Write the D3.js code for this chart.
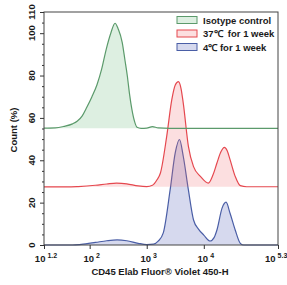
<!DOCTYPE html>
<html>
<head>
<meta charset="utf-8">
<script src="https://cdn.jsdelivr.net/npm/d3@7"></script>
<style>
  body { margin: 0; background: #fff; }
  svg text { font-family: "Liberation Sans", Arial, sans-serif; font-weight: bold; fill: #1a1a1a; }
</style>
</head>
<body>
<div id="chart"></div>
<script>
// series: x as log10 of fluorescence, y as plotted count (%) incl. offset
var isoX = [1.2, 1.4, 1.55, 1.7, 1.78, 1.87, 1.95, 2.04, 2.13, 2.21, 2.29, 2.37, 2.445, 2.5, 2.57, 2.62, 2.66, 2.7, 2.74, 2.79, 2.83, 2.9, 3.0, 3.1, 3.2, 3.4, 4.0, 5.3]
var isoY = [55.2, 55.3, 56, 57.2, 58.4, 61, 65, 70, 75.8, 83, 92.4, 100, 104.7, 102, 95.7, 87, 79.8, 71, 64, 58, 55.6, 55.1, 55.2, 55.9, 55.3, 55.1, 55.1, 55.1]

var warmX = [1.2, 1.6, 1.8, 2.1, 2.3, 2.47, 2.65, 2.85, 3.0, 3.1, 3.18, 3.24, 3.35, 3.44, 3.5, 3.556, 3.6, 3.64, 3.73, 3.82, 3.94, 4.08, 4.16, 4.23, 4.3, 4.36, 4.41, 4.46, 4.55, 4.64, 4.75, 5.3]
var warmY = [27.4, 27.4, 27.6, 28.2, 28.8, 29.2, 28.9, 27.9, 27.6, 28.2, 30.8, 34, 51.3, 68.7, 75.5, 77.1, 74, 67, 46.6, 37, 32.4, 29.2, 33, 38.7, 44, 46.1, 44.5, 40.3, 32.4, 28, 27.5, 27.5]

var coldX = [1.2, 1.7, 1.85, 2.1, 2.3, 2.48, 2.65, 2.85, 3.0, 3.12, 3.2, 3.29, 3.41, 3.5, 3.574, 3.64, 3.73, 3.82, 3.91, 4.0, 4.11, 4.18, 4.23, 4.32, 4.39, 4.46, 4.55, 4.64, 4.7, 5.3]
var coldY = [0, 0, 0.3, 1.2, 2.0, 2.4, 2.0, 0.8, 0.2, 0.4, 1.8, 5.7, 26, 43.6, 49.8, 41.9, 26, 11.8, 7.4, 4.7, 1.9, 3.5, 7.1, 17.4, 20.2, 15, 7.1, 0.8, 0, 0]

var baselines = [55.1, 27.5, 0]
var seriesNames = ["Isotype control", "37\u2103\u00a0 for 1 week", "4\u2103 for 1 week"]
var strokeColors = ["#5b9a6b", "#e5484f", "#4a5ea6"]
var fillColors = ["rgba(120,190,135,0.25)", "rgba(240,110,115,0.22)", "rgba(95,110,190,0.26)"]

var yTicks = [0, 20, 40, 60, 80, 100, 110]
var xTickExp = [1.2, 2, 3, 4, 5.3]

var width = 287, height = 285
var margin = {left: 44, top: 12, right: 9, bottom: 40}
var plotW = width - margin.left - margin.right
var plotH = height - margin.top - margin.bottom

var svg = d3.select("#chart").append("svg")
  .attr("width", width).attr("height", height)

var xScale = d3.scaleLog().domain([Math.pow(10, 1.2), Math.pow(10, 5.3)]).range([margin.left, margin.left + plotW])
var yScale = d3.scaleLinear().domain([0, 110]).range([margin.top + plotH, margin.top])

// curves (cold first so warm fill lies over it)
var data = [
  {x: isoX, y: isoY},
  {x: warmX, y: warmY},
  {x: coldX, y: coldY}
]
var order = [2, 1, 0]
order.forEach(function(i) {
  var pts = data[i].x.map(function(v, k) { return [Math.pow(10, v), data[i].y[k]] })
  var area = d3.area()
    .x(function(d) { return xScale(d[0]) })
    .y0(yScale(baselines[i]))
    .y1(function(d) { return yScale(d[1]) })
    .curve(d3.curveMonotoneX)
  var line = d3.line()
    .x(function(d) { return xScale(d[0]) })
    .y(function(d) { return yScale(d[1]) })
    .curve(d3.curveMonotoneX)
  svg.append("path").datum(pts).attr("d", area).attr("fill", fillColors[i])
  svg.append("path").datum(pts).attr("d", line)
    .attr("fill", "none").attr("stroke", strokeColors[i]).attr("stroke-width", 1.2)
})

// frame
svg.append("rect")
  .attr("x", margin.left).attr("y", margin.top)
  .attr("width", plotW).attr("height", plotH)
  .attr("fill", "none").attr("stroke", "#444").attr("stroke-width", 1)

// y axis
var yMinor = d3.range(0, 111, 5).filter(function(v) { return yTicks.indexOf(v) < 0 })
var yAxisMinor = d3.axisLeft(yScale).tickValues(yMinor).tickSize(2).tickFormat("")
svg.append("g").attr("transform", "translate(" + margin.left + ",0)").call(yAxisMinor)
var yAxis = d3.axisLeft(yScale).tickValues(yTicks).tickSize(4).tickFormat("")
svg.append("g").attr("transform", "translate(" + margin.left + ",0)").call(yAxis)
svg.selectAll(".domain").remove()
svg.selectAll(".tick line").attr("stroke", "#333")

yTicks.forEach(function(v) {
  svg.append("text")
    .attr("transform", "translate(35," + yScale(v) + ") rotate(-90)")
    .attr("text-anchor", "middle")
    .style("font-size", "9.5px")
    .text(v)
})

// x axis
var xMinor = []
for (var e = 1; e <= 5; e++) {
  for (var m = 2; m <= 9; m++) {
    var v = m * Math.pow(10, e)
    if (v > xScale.domain()[0] && v < xScale.domain()[1]) xMinor.push(v)
  }
}
xMinor.push(1e5)
var xMajor = xTickExp.map(function(p) { return Math.pow(10, p) })
var gx = svg.append("g").attr("transform", "translate(0," + (margin.top + plotH) + ")")
gx.call(d3.axisBottom(xScale).tickValues(xMinor).tickSize(2).tickFormat(""))
gx.call(d3.axisBottom(xScale).tickValues(xMajor).tickSize(4).tickFormat(""))
gx.selectAll(".domain").remove()
gx.selectAll(".tick line").attr("stroke", "#333")

xTickExp.forEach(function(p, i) {
  var last = i === xTickExp.length - 1
  var t = svg.append("text")
    .attr("x", last ? 265 : xScale(Math.pow(10, p)) + 2)
    .attr("y", margin.top + plotH + 17)
    .attr("text-anchor", last ? "start" : "middle")
    .style("font-size", "9.5px")
  t.append("tspan").text("10")
  t.append("tspan").attr("dx", 2).attr("dy", -4).style("font-size", "7px").text(p)
})

// axis titles
svg.append("text")
  .attr("x", 160).attr("y", margin.top + plotH + 30)
  .attr("text-anchor", "middle")
  .style("font-size", "9.5px")
  .text("CD45 Elab Fluor\u00ae Violet 450-H")

svg.append("text")
  .attr("transform", "translate(17,130) rotate(-90)")
  .attr("text-anchor", "middle")
  .style("font-size", "9.5px")
  .text("Count (%)")

// legend
seriesNames.forEach(function(name, i) {
  var ly = 20 + i * 13.5
  svg.append("rect")
    .attr("x", 177).attr("y", ly - 3.5).attr("width", 20).attr("height", 7)
    .attr("fill", fillColors[i]).attr("stroke", strokeColors[i]).attr("stroke-width", 1)
  svg.append("text")
    .attr("x", 203).attr("y", ly + 3.5)
    .style("font-size", "9.5px")
    .text(name)
})
</script>
</body>
</html>
